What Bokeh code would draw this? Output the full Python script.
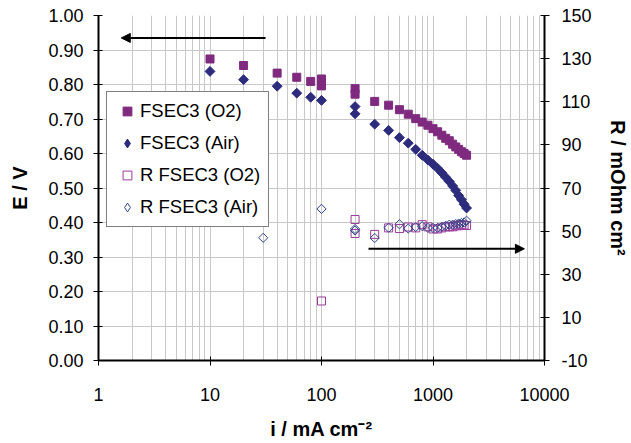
import numpy as np
from bokeh.plotting import figure
from bokeh.models import (Range1d, LinearAxis, FixedTicker, Legend, LegendItem,
                          Arrow, NormalHead, PrintfTickFormatter, CustomJSTickFormatter)
from bokeh.embed import file_html
from bokeh.resources import INLINE

FONT = "Liberation Sans"

# ---------------- data ----------------
i_o2 = [10, 20, 40, 60, 80, 100, 100, 200, 200, 300, 400, 500, 600, 700, 800, 900,
        1000, 1100, 1200, 1300, 1400, 1500, 1600, 1700, 1800, 1900, 2000]
E_o2 = [0.874, 0.855, 0.833, 0.821, 0.809, 0.816, 0.796, 0.788, 0.772, 0.751, 0.740,
        0.727, 0.714, 0.701, 0.691, 0.682, 0.672, 0.663, 0.653, 0.644, 0.637, 0.627,
        0.619, 0.612, 0.605, 0.600, 0.595]

i_air = [10, 20, 40, 60, 80, 100, 200, 200, 300, 400, 500, 600, 700, 800, 900,
         1000, 1100, 1200, 1300, 1400, 1500, 1600, 1700, 1800, 1900, 2000]
E_air = [0.838, 0.814, 0.795, 0.775, 0.763, 0.754, 0.736, 0.715, 0.685, 0.667, 0.646,
         0.630, 0.612, 0.595, 0.581, 0.569, 0.557, 0.544, 0.531, 0.519, 0.506, 0.493,
         0.478, 0.466, 0.453, 0.442]

i_r_o2 = [100, 200, 200, 300, 400, 500, 600, 700, 800, 900, 1000, 1100, 1200, 1300,
          1400, 1500, 1600, 1700, 1800, 1900, 2000]
R_o2 = [17.6, 55.4, 48.9, 48.5, 51.5, 51.2, 51.9, 51.5, 53.0, 52.0, 51.0, 51.0, 51.5,
        52.0, 52.0, 52.0, 52.5, 52.5, 53.0, 52.8, 52.6]

i_r_air = [30, 100, 200, 200, 300, 400, 500, 600, 700, 800, 900, 1000, 1100, 1200,
           1300, 1400, 1500, 1600, 1700, 1800, 1900, 2000]
R_air = [46.9, 60.3, 51.0, 50.3, 46.8, 51.6, 53.2, 51.2, 51.9, 52.3, 51.5, 51.5, 51.5,
         52.0, 52.5, 53.0, 53.0, 53.3, 53.5, 53.8, 54.0, 54.8]

x_ticks = [1, 10, 100, 1000, 10000]
x_minor = [m * d for d in [1, 10, 100, 1000] for m in range(2, 10)]
E_ticks = [round(0.1 * k, 1) for k in range(11)]
R_ticks = [-10, 10, 30, 50, 70, 90, 110, 130, 150]

labels = ["FSEC3 (O2)", "FSEC3 (Air)", "R FSEC3 (O2)", "R FSEC3 (Air)"]

# ---------------- styles ----------------
C_O2 = "#7F2A7F"
C_AIR = "#2D2C7C"
C_RO2 = "#9B3A9B"
C_RAIR = "#2F4386"
GRID = "#C8C8C8"

p = figure(frame_width=446, frame_height=345, x_axis_type="log",
           x_range=Range1d(1, 10000), y_range=Range1d(0, 1),
           output_backend="svg", toolbar_location=None,
           min_border_left=98, min_border_right=84, min_border_top=15,
           min_border_bottom=78, background_fill_color="white",
           border_fill_color="white")
p.outline_line_color = None
p.extra_y_ranges = {"R": Range1d(-10, 150)}

xaxis = p.xaxis[0]
laxis = p.yaxis[0]

xaxis.ticker = FixedTicker(ticks=x_ticks, minor_ticks=x_minor)
xaxis.formatter = CustomJSTickFormatter(code="return Math.round(tick).toString()")
laxis.ticker = FixedTicker(ticks=E_ticks)
laxis.formatter = PrintfTickFormatter(format="%.2f")
xaxis.axis_label = "i / mA cm\u207b\u00b2"
laxis.axis_label = "E / V"

raxis = LinearAxis(y_range_name="R", ticker=FixedTicker(ticks=R_ticks),
                   formatter=PrintfTickFormatter(format="%d"),
                   axis_label="R / mOhm cm\u00b2")
p.add_layout(raxis, "right")

for ax in [xaxis, laxis, raxis]:
    ax.axis_line_width = 2
    ax.axis_line_color = "black"
    ax.major_tick_in = 4
    ax.major_tick_out = 5
    ax.major_tick_line_color = "black"
    ax.minor_tick_line_color = None
    ax.major_label_text_font = FONT
    ax.major_label_text_font_size = "18px"
    ax.major_label_text_color = "black"
    ax.axis_label_text_font = FONT
    ax.axis_label_text_font_size = "20px"
    ax.axis_label_text_font_style = "bold"
    ax.axis_label_text_color = "black"

xaxis.major_label_standoff = 22
xaxis.axis_label_standoff = 14
laxis.major_label_standoff = 10
laxis.axis_label_standoff = 14
raxis.major_label_standoff = 12
raxis.axis_label_standoff = 12

p.xgrid.grid_line_color = GRID
p.xgrid.minor_grid_line_color = GRID
p.ygrid.grid_line_color = GRID

# ---------------- glyphs ----------------
r1 = p.scatter(i_o2, E_o2, marker="square", size=8, fill_color=C_O2, line_color=C_O2)
r2 = p.scatter(i_air, E_air, marker="square", angle=np.pi / 4, size=7,
               fill_color=C_AIR, line_color=C_AIR)
r3 = p.scatter(i_r_o2, R_o2, marker="square", size=8, fill_color=None,
               line_color=C_RO2, line_width=1, y_range_name="R")
r4 = p.scatter(i_r_air, R_air, marker="square", angle=np.pi / 4, size=6.5,
               fill_color=None, line_color=C_RAIR, line_width=1, y_range_name="R")

# legend-only diamond samples: same data, zero size on the plot
# (legend markers are sized from the legend box and drawn unrotated)
lg2 = p.scatter(i_air, E_air, marker="diamond", size=0,
                fill_color=C_AIR, line_color=C_AIR)
lg4 = p.scatter(i_r_air, R_air, marker="diamond", size=0, fill_color=None,
                line_color=C_RAIR, line_width=1, y_range_name="R")

# ---------------- arrows ----------------
p.add_layout(Arrow(end=NormalHead(size=9, fill_color="black", line_color="black"),
                   x_start=31.5, y_start=0.935, x_end=1.6, y_end=0.935,
                   line_width=2, line_color="black"))
p.add_layout(Arrow(end=NormalHead(size=9, fill_color="black", line_color="black"),
                   x_start=264, y_start=41.8, x_end=6600, y_end=41.8,
                   line_width=2, line_color="black", y_range_name="R"))

# ---------------- legend ----------------
legend = Legend(items=[LegendItem(label=l, renderers=[r]) for l, r in
                       zip(labels, [r1, lg2, r3, lg4])],
                location=(8, 133), margin=0, padding=8, spacing=10,
                glyph_width=24, glyph_height=22, label_height=22,
                label_standoff=1, label_text_font=FONT,
                label_text_font_size="18.5px", label_text_color="black",
                border_line_color="black", border_line_width=1,
                background_fill_color="white", background_fill_alpha=1.0)
p.add_layout(legend)

open("out.html", "w").write(file_html(p, INLINE))
